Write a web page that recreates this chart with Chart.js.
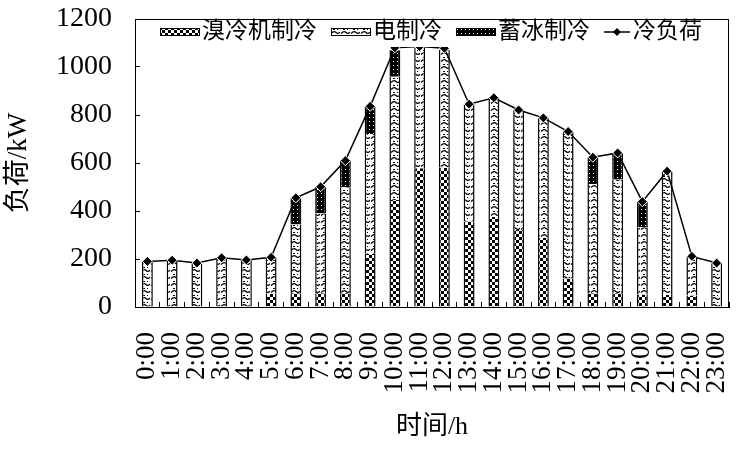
<!DOCTYPE html>
<html>
<head>
<meta charset="utf-8">
<script src="https://cdn.jsdelivr.net/npm/chart.js@4.4.0/dist/chart.umd.min.js"></script>
<style>
  html, body { margin: 0; padding: 0; background: #fff; }
  #wrap { width: 736px; height: 454px; }
</style>
</head>
<body>
<div id="wrap"><canvas id="chart" width="736" height="454"></canvas></div>
<script>
// hourly data, kW
const hours = ['0:00', '1:00', '2:00', '3:00', '4:00', '5:00', '6:00', '7:00', '8:00', '9:00', '10:00', '11:00',
    '12:00', '13:00', '14:00', '15:00', '16:00', '17:00', '18:00', '19:00', '20:00', '21:00', '22:00', '23:00'];
const absorption = [0, 0, 0, 0, 0, 55, 57, 57, 57, 222, 446, 578, 580, 356, 375, 321, 288, 119, 57, 57, 52, 50, 48, 0];
const electric = [190, 195, 183, 205, 196, 152, 287, 333, 442, 499, 513, 504, 492, 489, 497, 500, 500, 612, 456, 474, 280, 516, 163, 183];
const iceStorage = [0, 0, 0, 0, 0, 0, 111, 111, 111, 115, 111, 0, 0, 0, 0, 0, 0, 0, 111, 111, 107, 0, 0, 0];
const coolingLoad = [190, 195, 183, 205, 196, 207, 455, 501, 610, 836, 1080, 1085, 1078, 845, 872, 821, 788, 731, 624, 642, 439, 566, 211, 183];
const yTicks = [0, 200, 400, 600, 800, 1000, 1200];

const serif = '"Liberation Serif", "Noto Sans CJK SC", serif';
const canvas = document.getElementById('chart');
const ctx = canvas.getContext('2d');

function makePattern(w, h, paint) {
    const c = document.createElement('canvas');
    c.width = w;
    c.height = h;
    paint(c.getContext('2d'));
    return ctx.createPattern(c, 'repeat');
}

// checkered
const checker = makePattern(6, 6, function (g) {
    g.fillStyle = '#fff';
    g.fillRect(0, 0, 6, 6);
    g.fillStyle = '#000';
    g.fillRect(0, 0, 3, 3);
    g.fillRect(3, 3, 3, 3);
});
// dots and little waves
const dotted = makePattern(10, 7, function (g) {
    g.fillStyle = '#fff';
    g.fillRect(0, 0, 10, 7);
    g.fillStyle = '#000';
    g.fillRect(3, 1, 2, 1);
    g.fillRect(7, 1, 1, 1);
    g.strokeStyle = '#000';
    g.lineWidth = 1.2;
    g.beginPath();
    g.moveTo(1, 5.5);
    g.quadraticCurveTo(4, 2.5, 6, 4.5);
    g.quadraticCurveTo(8, 6.5, 10, 4);
    g.stroke();
});
// black with white specks
const iceFill = makePattern(4, 4, function (g) {
    g.fillStyle = '#000';
    g.fillRect(0, 0, 4, 4);
    g.fillStyle = '#fff';
    g.fillRect(1, 1, 1, 1);
});

const boxLegend = {
    id: 'boxLegend',
    afterDatasetsDraw(chart) {
        const c = chart.ctx;
        const a = chart.chartArea;
        c.save();
        c.fillStyle = '#fff';
        c.fillRect(a.left + 20, a.top + 1, a.right - a.left - 26, 27);
        c.font = '23px ' + serif;
        c.textBaseline = 'middle';
        c.textAlign = 'left';
        let x = a.left + 25;
        const y = a.top + 13;
        chart.data.datasets.forEach(function (ds) {
            if (ds.type === 'line') {
                c.strokeStyle = '#000';
                c.lineWidth = 1.5;
                c.beginPath();
                c.moveTo(x, y);
                c.lineTo(x + 26, y);
                c.stroke();
                c.fillStyle = '#000';
                c.beginPath();
                c.moveTo(x + 13, y - 4);
                c.lineTo(x + 17, y);
                c.lineTo(x + 13, y + 4);
                c.lineTo(x + 9, y);
                c.closePath();
                c.fill();
                x += 29;
            } else {
                c.fillStyle = ds.backgroundColor;
                c.fillRect(x, y - 4, 40, 8);
                c.strokeStyle = '#000';
                c.lineWidth = 1;
                c.strokeRect(x + 0.5, y - 3.5, 39, 7);
                x += 42;
            }
            c.fillStyle = '#000';
            c.fillText(ds.label, x, y);
            x += c.measureText(ds.label).width + 14;
        });
        // frame round the plot
        c.strokeStyle = '#000';
        c.lineWidth = 1;
        c.strokeRect(Math.round(a.left) + 0.5, Math.round(a.top) + 0.5,
            Math.round(a.right - a.left) - 1, Math.round(a.bottom - a.top));
        c.restore();
    }
};

const barBorder = {left: 1.5, right: 1.5, top: 0, bottom: 0};

new Chart(canvas, {
    type: 'bar',
    data: {
        labels: hours,
        datasets: [
            {
                label: '溴冷机制冷',
                data: absorption,
                backgroundColor: checker,
                borderColor: '#000',
                borderWidth: barBorder,
                borderSkipped: false
            },
            {
                label: '电制冷',
                data: electric,
                backgroundColor: dotted,
                borderColor: '#000',
                borderWidth: barBorder,
                borderSkipped: false
            },
            {
                label: '蓄冰制冷',
                data: iceStorage,
                backgroundColor: iceFill,
                borderColor: '#000',
                borderWidth: barBorder,
                borderSkipped: false
            },
            {
                type: 'line',
                label: '冷负荷',
                data: coolingLoad,
                order: -1,
                borderColor: '#000',
                borderWidth: 1.5,
                backgroundColor: '#000',
                pointStyle: 'rectRot',
                pointRadius: 5,
                pointBackgroundColor: '#000',
                pointBorderColor: '#fff',
                pointBorderWidth: 1,
                tension: 0
            }
        ]
    },
    options: {
        responsive: false,
        animation: false,
        barPercentage: 0.44,
        categoryPercentage: 1,
        layout: {padding: {left: 0, right: 7, top: 19, bottom: 0}},
        plugins: {
            legend: {display: false},
            tooltip: {enabled: false}
        },
        scales: {
            x: {
                stacked: true,
                afterFit: function (s) {
                    s.height = 147;
                    s.paddingLeft = 0;
                    s.paddingRight = 0;
                },
                grid: {
                    drawOnChartArea: false,
                    drawTicks: true,
                    tickLength: -5,
                    color: '#000'
                },
                border: {display: true, color: '#000', width: 1},
                ticks: {
                    autoSkip: false,
                    minRotation: 90,
                    maxRotation: 90,
                    padding: 30,
                    color: '#000',
                    font: {family: serif, size: 27}
                },
                title: {
                    display: true,
                    text: '时间/h',
                    color: '#000',
                    padding: {top: 0, bottom: 11},
                    font: {family: serif, size: 26}
                }
            },
            y: {
                stacked: true,
                min: 0,
                max: 1200,
                afterFit: function (s) {
                    s.width = 135;
                    s.paddingTop = 0;
                    s.paddingBottom = 0;
                },
                afterBuildTicks: function (s) {
                    s.ticks = yTicks.map(function (v) { return {value: v}; });
                },
                grid: {
                    drawOnChartArea: false,
                    drawTicks: true,
                    tickLength: -5,
                    color: '#000'
                },
                border: {display: true, color: '#000', width: 1},
                ticks: {
                    padding: 28,
                    color: '#000',
                    font: {family: serif, size: 28},
                    callback: function (v) { return String(v); }
                },
                title: {
                    display: true,
                    text: '负荷/kW',
                    color: '#000',
                    padding: {top: 3, bottom: 0},
                    font: {family: serif, size: 27}
                }
            }
        }
    },
    plugins: [boxLegend]
});
</script>
</body>
</html>
